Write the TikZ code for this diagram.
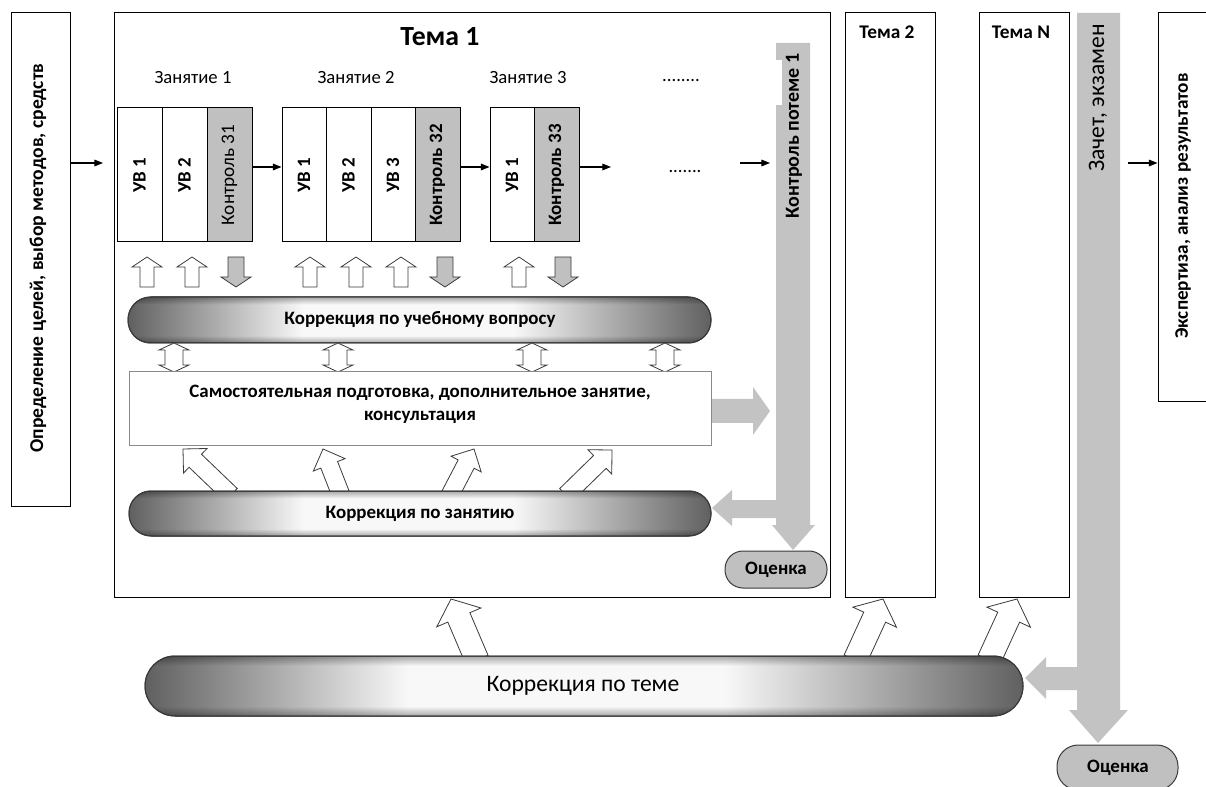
\documentclass[tikz,border=0pt]{standalone}
\usepackage{fontspec}
\setmainfont{Carlito}
\usetikzlibrary{arrows.meta,fit}
\definecolor{ctrlgray}{HTML}{C0C0C0}
\definecolor{bargray}{HTML}{C3C3C3}
\definecolor{pilldark}{HTML}{606060}
\definecolor{pilllight}{HTML}{F8F8F8}
\definecolor{edge}{HTML}{3A3A3A}
\definecolor{boxedge}{HTML}{8A8A8A}
\pgfdeclarehorizontalshading{pillshade}{100bp}{color(0bp)=(pilldark); color(25bp)=(pilldark); color(40bp)=(pilllight); color(58bp)=(pilllight); color(75bp)=(pilldark); color(100bp)=(pilldark)}
\pgfdeclareverticalshading{tubeshade}{100bp}{color(0bp)=(black!32); color(25bp)=(black!32); color(33bp)=(white); color(67bp)=(white); color(75bp)=(black!32); color(100bp)=(black!32)}
\newcommand{\blkarrow}[8]{%
  \pgfmathsetmacro{\bkdx}{#4-(#2)}%
  \pgfmathsetmacro{\bkdy}{#5-(#3)}%
  \pgfmathsetmacro{\bklen}{veclen(\bkdx,\bkdy)}%
  \pgfmathsetmacro{\bkux}{\bkdx/\bklen}%
  \pgfmathsetmacro{\bkuy}{\bkdy/\bklen}%
  \pgfmathsetmacro{\bkhx}{#4-#8*\bkux}%
  \pgfmathsetmacro{\bkhy}{#5-#8*\bkuy}%
  \path[#1] ({#2-#6*\bkuy},{#3+#6*\bkux}) -- ({\bkhx-#6*\bkuy},{\bkhy+#6*\bkux}) -- ({\bkhx-#7*\bkuy},{\bkhy+#7*\bkux}) -- (#4,#5) -- ({\bkhx+#7*\bkuy},{\bkhy-#7*\bkux}) -- ({\bkhx+#6*\bkuy},{\bkhy-#6*\bkux}) -- ({#2+#6*\bkuy},{#3-#6*\bkux}) -- cycle;
}
\newcommand{\dblarrow}[3]{%
  \path[hollow] (#1-9,#2+7) -- (#1-15,#2+7) -- (#1,#2) -- (#1+15,#2+7) -- (#1+9,#2+7) -- (#1+9,#3-7) -- (#1+15,#3-7) -- (#1,#3) -- (#1-15,#3-7) -- (#1-9,#3-7) -- cycle;
}
\newcommand{\tubepill}[5]{% x1,y1,x2,y2,radius
  \begin{scope}[blend mode=multiply]
    \shade[shading=tubeshade, rounded corners=#5] (#1,#2) rectangle (#3,#4);
  \end{scope}
  \draw[edge, line width=0.75pt, rounded corners=#5] (#1,#2) rectangle (#3,#4);
}
\begin{document}
\begin{tikzpicture}[x=0.75pt,y=-0.75pt,
  box/.style={draw=black, line width=0.75pt, fill=white, inner sep=0pt},
  ctrl/.style={box, fill=ctrlgray},
  lbl/.style={font=\fontsize{14.2}{17.25}\selectfont\bfseries, text=black, inner sep=0pt},
  lblr/.style={font=\fontsize{14}{16}\selectfont, text=black, inner sep=0pt},
  big/.style={font=\fontsize{17.7}{20}\selectfont, text=black, inner sep=0pt},
  tarrow/.style={-{Triangle[length=6.5pt,width=5pt]}, line width=0.8pt},
  hollow/.style={draw=edge, fill=white, line width=0.6pt, line join=miter},
  grayarrow/.style={draw=edge, fill=ctrlgray, line width=0.6pt, line join=miter},
  graybar/.style={fill=bargray},
  pill/.style={draw=edge, line width=0.75pt, shade, shading=pillshade, inner sep=0pt},
  evalnode/.style={draw=edge, fill=ctrlgray, line width=0.75pt, inner sep=0pt}
]
\clip (0,0) rectangle (1206,787);
\fill[white] (0,0) rectangle (1206,787);

% left box
\node[box, fit={(11,13)(70,506)}] (goal) {};
\node[lbl, font=\fontsize{14.7}{17}\selectfont\bfseries, rotate=90] (goaltxt) at (38,258) {Определение целей, выбор методов, средств};

% Tema boxes
\node[box, fit={(114,13)(830,597)}] (t1) {};
\node[font=\fontsize{20.8}{24}\selectfont\bfseries, inner sep=0pt] (t1title) at (440,37) {Тема 1};
\node[box, fit={(845,13)(935,597)}] (t2) {};
\node[font=\fontsize{14.5}{17}\selectfont\bfseries, inner sep=0pt] (t2title) at (887,32) {Тема 2};
\node[box, fit={(979,13)(1069,597)}] (tn) {};
\node[font=\fontsize{14.5}{17}\selectfont\bfseries, inner sep=0pt] (tntitle) at (1021,32) {Тема N};

% right box
\node[box, fit={(1158,13)(1215,402)}] (expert) {};
\node[lbl, font=\fontsize{14.4}{17}\selectfont\bfseries, rotate=90] (experttxt) at (1183,206) {Экспертиза, анализ результатов};

% session labels
\node[lblr] (z1) at (193,78) {Занятие 1};
\node[lblr] (z2) at (356,78) {Занятие 2};
\node[lblr] (z3) at (528,78) {Занятие 3};
\node[lblr, anchor=base] (zdots) at (681,82) {........};
\node[lblr, anchor=base] (sdots) at (685,173) {.......};

% session 1
\node[box, fit={(117,108)(162,242)}] (s1a) {};
\node[box, fit={(162,108)(207,242)}] (s1b) {};
\node[ctrl, fit={(207,108)(252,242)}] (s1c) {};
\node[lbl, rotate=90] at (s1a.center) {УВ 1};
\node[lbl, rotate=90] at (s1b.center) {УВ 2};
\node[lblr, font=\fontsize{14.4}{16}\selectfont, rotate=90] at (s1c.center) {Контроль 31};
% session 2
\node[box, fit={(282,108)(326,242)}] (s2a) {};
\node[box, fit={(326,108)(371,242)}] (s2b) {};
\node[box, fit={(371,108)(415,242)}] (s2c) {};
\node[ctrl, fit={(415,108)(460,242)}] (s2d) {};
\node[lbl, rotate=90] at (s2a.center) {УВ 1};
\node[lbl, rotate=90] at (s2b.center) {УВ 2};
\node[lbl, rotate=90] at (s2c.center) {УВ 3};
\node[lbl, rotate=90] at (s2d.center) {Контроль 32};
% session 3
\node[box, fit={(490,108)(534,242)}] (s3a) {};
\node[ctrl, fit={(534,108)(579,242)}] (s3b) {};
\node[lbl, rotate=90] at (s3a.center) {УВ 1};
\node[lbl, rotate=90] at (s3b.center) {Контроль 33};

% thin arrows
\coordinate (in1) at (103,163);
\coordinate (out3) at (611,167);
\coordinate (prebar0) at (740,163);
\coordinate (prebar1) at (770,163);
\coordinate (zach) at (1128,163);
\draw[tarrow] (goal.east |- in1) -- (in1);
\draw[tarrow] ([yshift=6pt]s1c.east) -- ([yshift=6pt]s2a.west);
\draw[tarrow] ([yshift=6pt]s2d.east) -- ([yshift=6pt]s3a.west);
\draw[tarrow] ([yshift=6pt]s3b.east) -- (out3);
\draw[tarrow] (prebar0) -- (prebar1);
\draw[tarrow] (zach) -- (expert.west |- zach);

% up / down arrows under sessions
\foreach \xx in {147,192,310,356,401,519}{\blkarrow{hollow}{\xx}{287}{\xx}{257}{7}{15}{10}}
\foreach \xx in {236,445,563}{\blkarrow{grayarrow}{\xx}{257}{\xx}{287}{8}{15}{10}}

% pill 1
\node[pill, rounded corners=17pt, fit={(128,297)(711,343)}] (p1) {};
\tubepill{128}{297}{711}{343}{17pt}
\node[lbl] (p1txt) at (420,320) {Коррекция по учебному вопросу};

% double arrows
\foreach \xx in {174,338,532,665}{\dblarrow{\xx}{343}{372}}

% self-study box
\node[box, draw=boxedge, fit={(129,372)(711,446)}] (self) {};
\node[lbl, align=center] (selftxt) at (420,404) {Самостоятельная подготовка, дополнительное занятие,\\консультация};

% diagonal arrows from pill 2
\blkarrow{hollow}{231}{495}{183}{449}{9}{17}{17}
\blkarrow{hollow}{341}{495}{323}{449}{9}{17}{17}
\blkarrow{hollow}{450}{495}{474}{449}{9}{17}{17}
\blkarrow{hollow}{566}{495}{612}{450}{9}{17}{17}

% pill 2
\node[pill, rounded corners=16.5pt, fit={(129,491)(711,536)}] (p2) {};
\tubepill{129}{491}{711}{536}{16.5pt}
\node[lbl] (p2txt) at (420,514) {Коррекция по занятию};

% control bar for theme 1
\path[graybar] (776,43) -- (810,43) -- (810,525) -- (815,525) -- (793,550) -- (772,525) -- (776,525) -- (776,518) -- (732,518) -- (732,526) -- (712,508) -- (732,490) -- (732,500) -- (776,500) -- cycle;
\fill[white] (776,60) rectangle (782,105);
\node[lbl, font=\fontsize{15}{17}\selectfont\bfseries, rotate=90] (kt1) at (794,136) {Контроль потеме 1};
\blkarrow{graybar}{712}{411}{770}{411}{12}{24}{17}

% evaluation 1
\node[evalnode, rounded corners=13.5pt, fit={(725,551)(827,588)}] (ev1) {};
\node[lbl] at (ev1.center) {Оценка};

% exam bar
\path[graybar] (1077,13) -- (1120,13) -- (1120,710) -- (1128,710) -- (1098,743) -- (1069,710) -- (1077,710) -- (1077,690) -- (1046,690) -- (1046,699) -- (1025,678) -- (1046,657) -- (1046,667) -- (1077,667) -- cycle;
\node[big, rotate=90] (exam) at (1098,98) {Зачет, экзамен};

% arrows from pill 3
\blkarrow{hollow}{477}{660}{451}{599}{12}{24}{20}
\blkarrow{hollow}{855}{660}{883}{599}{12}{24}{20}
\blkarrow{hollow}{989}{660}{1017}{599}{12}{24}{20}

% pill 3
\node[pill, rounded corners=22.5pt, fit={(145,656)(1023,716)}] (p3) {};
\tubepill{145}{656}{1023}{716}{22.5pt}
\node[big] (p3txt) at (583,686) {Коррекция по теме};

% evaluation 2
\node[evalnode, rounded corners=16pt, fit={(1057,745)(1178,790)}] (ev2) {};
\node[lbl] at (1118,768) {Оценка};
\end{tikzpicture}
\end{document}
